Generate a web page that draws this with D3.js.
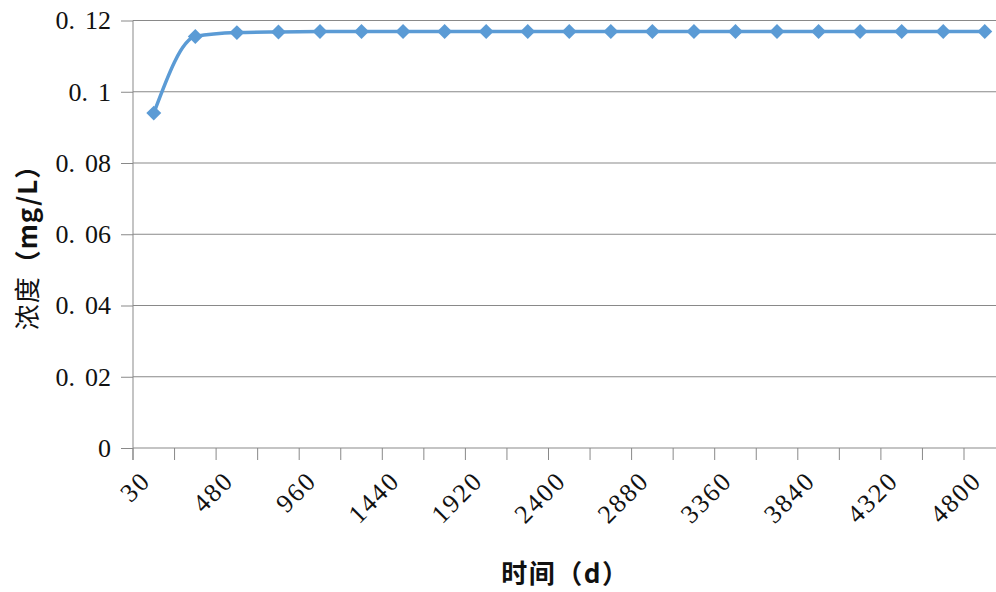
<!DOCTYPE html>
<html>
<head>
<meta charset="utf-8">
<script src="https://cdn.jsdelivr.net/npm/d3@7"></script>
<style>
  body { margin: 0; background: #fff; }
  svg { display: block; }
</style>
</head>
<body>
<div id="chart"></div>
<script>
// categories (days) and concentration values
const days = [30, 240, 480, 720, 960, 1200, 1440, 1680, 1920, 2160, 2400,
  2640, 2880, 3120, 3360, 3600, 3840, 4080, 4320, 4560, 4800];
const conc = [0.094, 0.1155, 0.1166, 0.1168, 0.1169, 0.1169, 0.1169, 0.1169,
  0.1169, 0.1169, 0.1169, 0.1169, 0.1169, 0.1169, 0.1169, 0.1169, 0.1169,
  0.1169, 0.1169, 0.1169, 0.1169];
const yTicks = [0, 0.02, 0.04, 0.06, 0.08, 0.1, 0.12];
const xLabelEvery = 2;

const W = 996, H = 592;
const plotLeft = 133, plotTop = 20.5, plotBottom = 448;
const band = 41.55;
const plotRight = plotLeft + band * days.length;

const svg = d3.select("#chart").append("svg")
  .attr("width", W)
  .attr("height", H);

const x = d3.scaleBand()
  .domain(days)
  .range([plotLeft, plotRight])
  .paddingInner(0)
  .paddingOuter(0);

const y = d3.scaleLinear()
  .domain([0, 0.12])
  .range([plotBottom, plotTop]);

const gray = "#898989";
const serif = "'Liberation Serif', 'DejaVu Serif', serif";
const cjk = "'Noto Sans CJK SC', sans-serif";

// gridlines
svg.append("g")
  .selectAll("line")
  .data(yTicks)
  .enter()
  .append("line")
  .attr("x1", plotLeft)
  .attr("x2", plotRight)
  .attr("y1", d => y(d))
  .attr("y2", d => y(d))
  .attr("stroke", gray)
  .attr("stroke-width", 1);

// y axis
const yAxis = svg.append("g")
  .attr("transform", `translate(${plotLeft},0)`)
  .call(d3.axisLeft(y).tickValues(yTicks).tickSize(12).tickPadding(10).tickFormat(""));
yAxis.select(".domain").remove();
yAxis.selectAll(".tick line").attr("stroke", gray);

svg.append("line")
  .attr("x1", plotLeft).attr("x2", plotLeft)
  .attr("y1", plotTop).attr("y2", plotBottom + 12)
  .attr("stroke", gray);

const yLab = svg.append("g")
  .selectAll("text")
  .data(yTicks)
  .enter()
  .append("text")
  .attr("x", 111)
  .attr("y", d => y(d))
  .attr("dy", "0.34em")
  .attr("text-anchor", "end")
  .attr("font-family", serif)
  .attr("font-size", 26)
  .attr("fill", "#111");
yLab.each(function (d) {
  const s = d3.format(".2~f")(d);
  const t = d3.select(this);
  if (s.indexOf(".") < 0) { t.text(s); return; }
  const [a, b] = s.split(".");
  t.append("tspan").text(a + ".");
  t.append("tspan").attr("dx", 10).text(b);
});

// x axis: ticks at category boundaries
const bounds = days.map(d => x(d)).concat([plotRight]);
svg.append("g")
  .selectAll("line")
  .data(bounds)
  .enter()
  .append("line")
  .attr("x1", d => d).attr("x2", d => d)
  .attr("y1", plotBottom).attr("y2", plotBottom + 12)
  .attr("stroke", gray);

svg.append("g")
  .selectAll("text")
  .data(days.filter((d, i) => i % xLabelEvery === 0))
  .enter()
  .append("text")
  .attr("transform", d => `translate(${x(d) + x.bandwidth() / 2 - 8},${plotBottom + 28}) rotate(-45)`)
  .attr("dy", "0.34em")
  .attr("text-anchor", "end")
  .attr("font-family", serif)
  .attr("font-size", 26)
  .attr("letter-spacing", 2)
  .attr("fill", "#111")
  .text(d => d);

// series line
const pts = days.map((d, i) => [x(d) + x.bandwidth() / 2, y(conc[i])]);
svg.append("path")
  .attr("d", d3.line().curve(d3.curveMonotoneX)(pts))
  .attr("fill", "none")
  .attr("stroke", "#5B9BD5")
  .attr("stroke-width", 3.5)
  .attr("stroke-linejoin", "round");

svg.append("g")
  .selectAll("path")
  .data(pts)
  .enter()
  .append("path")
  .attr("d", d3.symbol(d3.symbolSquare, 112)())
  .attr("transform", d => `translate(${d[0]},${d[1]}) rotate(45)`)
  .attr("fill", "#5B9BD5");

// titles
svg.append("text")
  .attr("x", (plotLeft + plotRight) / 2 - 4)
  .attr("y", 583)
  .attr("text-anchor", "middle")
  .attr("font-family", cjk)
  .attr("font-weight", "bold")
  .attr("font-size", 26)
  .attr("letter-spacing", 1.5)
  .attr("fill", "#111")
  .text("时间（d）");

const yt = svg.append("text")
  .attr("transform", "translate(25,241) rotate(-90)")
  .attr("text-anchor", "middle")
  .attr("dominant-baseline", "central")
  .attr("font-family", cjk)
  .attr("font-size", 26)
  .attr("letter-spacing", 1)
  .attr("fill", "#111");
yt.append("tspan").text("浓度");
yt.append("tspan").attr("font-weight", "bold").text("（mg/L）");
</script>
</body>
</html>
